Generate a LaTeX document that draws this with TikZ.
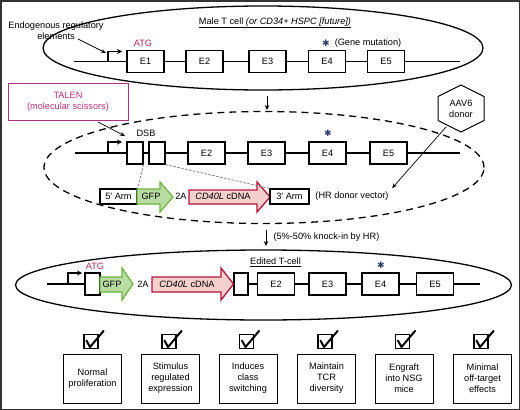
\documentclass[tikz,border=0pt]{standalone}
\usepackage{fontspec}
\setmainfont{Liberation Sans}
\newfontfamily\djv{DejaVu Sans}
\usetikzlibrary{shapes.geometric,arrows.meta}
\definecolor{talenc}{HTML}{B3307E}
\definecolor{atgc}{HTML}{A8285A}
\definecolor{starc}{HTML}{2E3A6B}
\definecolor{gfpfill}{HTML}{B9DCA2}
\definecolor{gfpdraw}{HTML}{6DB33F}
\definecolor{redfill}{HTML}{F4D0CC}
\definecolor{reddraw}{HTML}{B3143C}
\definecolor{framec}{HTML}{333333}
\begin{document}
\begin{tikzpicture}[x=1pt,y=-1pt,
  font=\fontsize{9.2}{11}\selectfont,
  exon/.style={draw, line width=1.1pt, fill=white, minimum width=37pt, minimum height=22pt, inner sep=0pt},
  stub/.style={exon, minimum width=15pt},
  gline/.style={line width=1.3pt},
  cell/.style={ellipse, draw, line width=1.3pt, inner sep=0pt},
  armbox/.style={draw, line width=1.1pt, fill=white, minimum height=15pt, inner sep=0pt},
  feat/.style={draw, line width=0.9pt, minimum width=58pt, minimum height=49pt, align=center, inner sep=0pt},
  chk/.style={draw, line width=1.1pt, minimum size=14pt, inner sep=0pt},
  tick/.style={line width=2pt, line join=round, line cap=round},
  prom/.style={line width=1.1pt, -{Stealth[length=5pt,width=5pt]}},
  thinarrow/.style={line width=0.7pt, -{Stealth[length=5pt,width=4pt]}},
  downarrow/.style={line width=1pt, -{Stealth[length=5pt,width=4.5pt]}},
  graydash/.style={gray, line width=0.8pt, dash pattern=on 2.5pt off 1.5pt},
  gfparrow/.style={fill=gfpfill, draw=gfpdraw, line width=1.2pt, line join=miter},
  redarrow/.style={fill=redfill, draw=reddraw, line width=1.3pt, line join=miter},
  starmark/.style={text=starc, font=\djv\fontsize{9}{9}\selectfont, inner sep=0pt}
]
\useasboundingbox (0,0) rectangle (520,410);
\draw[framec, line width=1.5pt] (0.75,0.75) rectangle (519.25,409.25);

% ---------- top cell ----------
\node[cell, minimum width=440pt, minimum height=84pt] (cell1) at (263,48) {};
\node (t1) at (275,23) {\underline{Male T cell \textit{(or CD34+ HSPC [future])}}};
\node[align=center] (erl) at (56,30.5) {Endogenous regulatory\\elements};
\coordinate (ertail) at (78,39);
\coordinate (pc1) at (106,53);
\draw[thinarrow] (ertail) -- (pc1);

\coordinate (l1s) at (74,61.5);
\coordinate (l1e) at (460,61.5);
\node[exon] (e11) at (145.5,61.5) {E1};
\node[exon] (e12) at (204.5,61.5) {E2};
\node[exon] (e13) at (267.5,61.5) {E3};
\node[exon] (e14) at (327,61.5) {E4};
\node[exon] (e15) at (386,61.5) {E5};
\draw[gline] (l1s) -- (e11.west) (e11.east) -- (e12.west) (e12.east) -- (e13.west)
  (e13.east) -- (e14.west) (e14.east) -- (e15.west) (e15.east) -- (l1e);
\coordinate (p1) at (108,61.5);
\draw[prom] (p1) -- ++(0,-10) -- ++(14,0);
\node[text=atgc] (atg1) at (143,43) {ATG};
\node[starmark] (s1) at (326,43) {✱};
\node (gm) at (368,43) {(Gene mutation)};

\coordinate (a1s) at (267,96);
\coordinate (a1e) at (267,110);
\draw[downarrow] (a1s) -- (a1e);

% ---------- TALEN ----------
\node[draw=talenc, line width=1pt, text=talenc, minimum width=120pt, minimum height=37pt, align=center, inner sep=0pt] (talen) at (68,101.5) {TALEN\\(molecular scissors)};
\coordinate (dsbpt) at (125,136);
\draw[thinarrow] (98,122) -- (dsbpt);

% ---------- middle cell ----------
\node[cell, dash pattern=on 7pt off 5pt, minimum width=440pt, minimum height=112pt] (cell2) at (264,167.5) {};
\coordinate (l2s) at (75,153);
\coordinate (l2e) at (460,153);
\node[stub, minimum width=16pt] (ba) at (135,153) {};
\node[stub, minimum width=16pt] (bb) at (157,153) {};
\node[exon] (e22) at (206.5,153) {E2};
\node[exon] (e23) at (266.5,153) {E3};
\node[exon] (e24) at (327.5,153) {E4};
\node[exon] (e25) at (388.5,153) {E5};
\draw[gline] (l2s) -- (ba.west) (ba.east) -- (bb.west) (bb.east) -- (e22.west) (e22.east) -- (e23.west)
  (e23.east) -- (e24.west) (e24.east) -- (e25.west) (e25.east) -- (l2e);
\coordinate (p2) at (108,153);
\draw[prom] (p2) -- ++(0,-11) -- ++(14,0);
\node (dsb) at (146,133) {DSB};
\node[starmark] (s2) at (328,133) {✱};

% donor vector
\node[armbox, minimum width=37pt] (arm5) at (118.5,196.5) {5′ Arm};
\draw[gfparrow] (137,189) -- (160,189) -- (160,182) -- (173,197) -- (160,212) -- (160,204) -- (137,204) -- cycle;
\node (gfp1) at (151,196.5) {GFP};
\node (ta1) at (181,196.5) {2A};
\draw[redarrow] (189,190) -- (257,190) -- (257,182) -- (270,197) -- (257,212) -- (257,204) -- (189,204) -- cycle;
\node (cd1) at (223,196.5) {\textit{CD40L} cDNA};
\node[armbox, minimum width=39pt] (arm3) at (289.5,196.5) {3′ Arm};
\node (hr) at (352,196) {(HR donor vector)};
\draw[graydash] (ba.south east) -- (arm5.north east);
\draw[graydash] (bb.south east) -- (arm3.north west);

% AAV6 hexagon
\draw[line width=1pt, fill=white] (461,85) -- (484,96.5) -- (484,120.5) -- (461,132) -- (438,120.5) -- (438,96.5) -- cycle;
\node[align=center] (aav) at (461,108.5) {AAV6\\donor};
\coordinate (hexbl) at (446,127);
\draw[thinarrow] (hexbl) -- (hr.north east);

\coordinate (a2s) at (266,230);
\coordinate (a2e) at (266,246);
\draw[downarrow] (a2s) -- (a2e);
\node[anchor=west] (ki) at (270,237) {(5\%-50\% knock-in by HR)};

% ---------- bottom cell ----------
\node[cell, minimum width=496pt, minimum height=70pt] (cell3) at (263.5,285) {};
\node (t3) at (275.5,262) {\underline{Edited T-cell}};
\coordinate (l3s) at (47,284);
\coordinate (l3e) at (480,284);
\node[stub] (bc) at (92.5,284) {};
\node[stub, minimum width=14pt] (bd) at (241,284) {};
\node[exon] (e32) at (276,284) {E2};
\node[exon] (e33) at (327.5,284) {E3};
\node[exon] (e34) at (380.5,284) {E4};
\node[exon] (e35) at (435,284) {E5};
\draw[gline] (l3s) -- (bc.west) (bd.east) -- (e32.west) (e32.east) -- (e33.west)
  (e33.east) -- (e34.west) (e34.east) -- (e35.west) (e35.east) -- (l3e);
\coordinate (p3) at (68,284);
\draw[prom] (p3) -- ++(0,-11) -- ++(14,0);
\node[text=atgc] (atg3) at (95,266) {ATG};
\draw[gfparrow] (100,277) -- (122,277) -- (122,268) -- (133,284) -- (122,300) -- (122,292) -- (100,292) -- cycle;
\node (gfp3) at (112,284) {GFP};
\node (ta3) at (143,284) {2A};
\draw[redarrow] (152,277) -- (221,277) -- (221,268) -- (233.5,284) -- (221,300) -- (221,292) -- (152,292) -- cycle;
\node (cd3) at (187,284) {\textit{CD40L} cDNA};
\node[starmark] (s3) at (381,265) {✱};

% ---------- outcomes ----------
\foreach \i/\x/\t in {1/92.5/{Normal\\proliferation}, 2/170.5/{Stimulus\\regulated\\expression},
  3/248/{Induces\\class\\switching}, 4/326.5/{Maintain\\TCR\\diversity},
  5/404/{Engraft\\into NSG\\mice}, 6/482.5/{Minimal\\off-target\\effects}} {
  \node[feat] (f\i) at (\x,378.5) {\t};
  \node[chk] (c\i) at (\x-1.5,341.5) {};
  \draw[tick] ([shift={(3,-1)}]c\i.west) -- ([shift={(-1,-2)}]c\i.south) -- ([shift={(5,-3)}]c\i.north east);
}
\end{tikzpicture}
\end{document}
